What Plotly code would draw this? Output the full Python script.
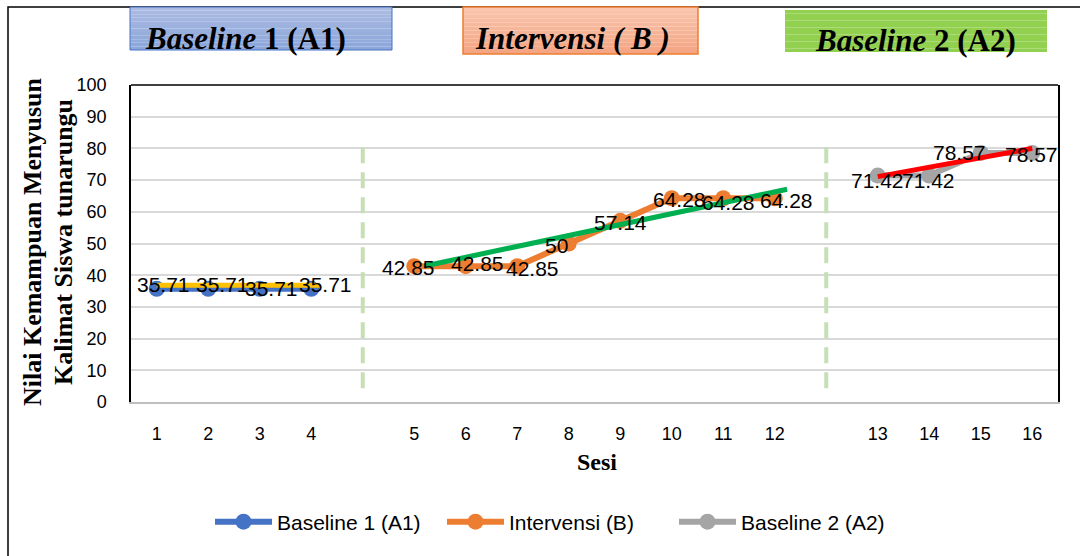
import plotly.graph_objects as go

# ---- data -------------------------------------------------------------
sesi_a1 = [1, 2, 3, 4]
nilai_a1 = [35.71, 35.71, 35.71, 35.71]

sesi_b = [5, 6, 7, 8, 9, 10, 11, 12]
nilai_b = [42.85, 42.85, 42.85, 50, 57.14, 64.28, 64.28, 64.28]

sesi_a2 = [13, 14, 15, 16]
nilai_a2 = [71.42, 71.42, 78.57, 78.57]

# hand-drawn trend lines per phase (session, value)
tren_a1_x = [1, 4.17]
tren_a1_y = [36.8, 36.8]
tren_b_x = [5.2, 12.24]
tren_b_y = [42.9, 67.1]
tren_a2_x = [13, 16]
tren_a2_y = [71.1, 80.0]

tick_sesi = list(range(1, 17))

# ---- layout geometry (px) ----------------------------------------------
W, H = 1080, 556
L, R, T, B = 131, 1058, 85, 402
PW, PH = R - L, B - T


def px(x):
    return (x - L) / PW


def py(y):
    return (B - y) / PH


def slot(s):
    """Sessions sit on an 18-slot axis with an empty slot between phases."""
    if s <= 4.5:
        return s - 1
    if s <= 12.5:
        return s
    return s + 1


def slots(seq):
    return [slot(s) for s in seq]


BLUE, ORANGE, GREY = "#4472C4", "#ED7D31", "#A5A5A5"
SANS = "Liberation Sans, Arial, sans-serif"
SERIF = "Liberation Serif, Times New Roman, serif"

fig = go.Figure()

series = [
    ("Baseline 1 (A1)", sesi_a1, nilai_a1, BLUE),
    ("Intervensi (B)", sesi_b, nilai_b, ORANGE),
    ("Baseline 2 (A2)", sesi_a2, nilai_a2, GREY),
]
for name, xs, ys, col in series:
    fig.add_trace(go.Scatter(
        x=slots(xs), y=ys, name=name, mode="lines+markers",
        line=dict(color=col, width=6),
        marker=dict(color=col, size=16),
        hoverinfo="skip",
    ))

trends = [
    (tren_a1_x, tren_a1_y, "#FFC000"),
    (tren_b_x, tren_b_y, "#00B050"),
    (tren_a2_x, tren_a2_y, "#FF0000"),
]
for xs, ys, col in trends:
    fig.add_trace(go.Scatter(
        x=slots(xs), y=ys, mode="lines", showlegend=False,
        line=dict(color=col, width=5), hoverinfo="skip",
    ))

# value labels (small nudges keep overlapping numbers apart)
label_nudge = {
    "a1": ([7, 14, 12, 14], [4, 4, 0, 4]),
    "b": ([-6, 12, 15, -12, 0, 8, 5, 12], [-1, 3, -2, -2, -2, -1, -4, -2]),
    "a2": ([0, -1, -21, -1], [-5, -5, 0, -2]),
}
annotations = []
for key, xs, ys in (("a1", sesi_a1, nilai_a1), ("b", sesi_b, nilai_b),
                    ("a2", sesi_a2, nilai_a2)):
    dx, dy = label_nudge[key]
    for i, (s, v) in enumerate(zip(xs, ys)):
        annotations.append(dict(
            x=slot(s), y=v, xref="x", yref="y", text=f"{v:g}",
            showarrow=False, xshift=dx[i], yshift=dy[i],
            font=dict(family=SANS, size=21, color="#000000"),
        ))

shapes = []


def gradient_box(x0, x1, y0, y1, top, bottom, border, bw, n=12):
    def hx(c):
        return [int(c[i:i + 2], 16) for i in (1, 3, 5)]
    a, b = hx(top), hx(bottom)
    step = (y1 - y0) / n
    for k in range(n):
        t = k / (n - 1)
        c = [round(a[j] + (b[j] - a[j]) * t) for j in range(3)]
        shapes.append(dict(
            type="rect", xref="paper", yref="paper",
            x0=px(x0), x1=px(x1), y0=py(y0 + step * (k + 1)), y1=py(y0 + step * k),
            fillcolor="rgb({},{},{})".format(*c), line=dict(width=0),
        ))
    if border:
        shapes.append(dict(
            type="rect", xref="paper", yref="paper",
            x0=px(x0), x1=px(x1), y0=py(y1), y1=py(y0),
            line=dict(color=border, width=bw), fillcolor="rgba(0,0,0,0)",
        ))


# outer frame
shapes.append(dict(type="rect", xref="paper", yref="paper",
                   x0=px(8), x1=px(1095), y0=py(570), y1=py(7),
                   line=dict(color="#000000", width=1.5), fillcolor="rgba(0,0,0,0)"))

# phase headers
gradient_box(130, 392, 7, 50, "#ABBBE3", "#8CA6DA", BLUE, 1)
gradient_box(463, 698, 7, 54, "#F9C5AD", "#F4A583", ORANGE, 1.5)
gradient_box(785, 1047, 10, 52, "#92D050", "#92D050", None, 0)

# top edge of the plot frame (bottom edge is the grey category axis line)
shapes.append(dict(type="line", xref="paper", yref="paper", x0=0, x1=1, y0=1, y1=1,
                   line=dict(color="#000000", width=1.5)))

# phase-change dashed lines
for pos in (slot(4) + 0.5 * (slot(5) - slot(4)), slot(12) + 0.5 * (slot(13) - slot(12))):
    shapes.append(dict(type="line", xref="x", yref="y", x0=pos, x1=pos, y0=4.3, y1=81,
                       line=dict(color="#C5E0B4", width=4, dash="16px,9px")))

headers = [
    ("<b><i>Baseline</i> 1 (A1)</b>", 245, 38),
    ("<b><i>Intervensi ( B )</i></b>", 572, 38),
    ("<b><i>Baseline</i> 2 (A2)</b>", 915, 40),
]
for txt, x, y in headers:
    annotations.append(dict(
        x=px(x), y=py(y), xref="paper", yref="paper", text=txt,
        showarrow=False, xanchor="center", yanchor="middle",
        font=dict(family=SERIF, size=31, color="#000000"),
    ))

# axis titles
for txt, x in (("<b>Nilai Kemampuan Menyusun</b>", 32), ("<b>Kalimat Siswa tunarungu</b>", 63)):
    annotations.append(dict(
        x=px(x), y=py(242), xref="paper", yref="paper", text=txt, textangle=-90,
        showarrow=False, xanchor="center", yanchor="middle",
        font=dict(family=SERIF, size=26, color="#000000"),
    ))
annotations.append(dict(
    x=px(597), y=py(462), xref="paper", yref="paper", text="<b>Sesi</b>",
    showarrow=False, xanchor="center", yanchor="middle",
    font=dict(family=SERIF, size=24, color="#000000"),
))

fig.update_layout(
    width=W, height=H,
    margin=dict(l=L, r=W - R, t=T, b=H - B),
    paper_bgcolor="#FFFFFF", plot_bgcolor="#FFFFFF",
    shapes=shapes, annotations=annotations,
    showlegend=True,
    legend=dict(orientation="h", x=px(558), xanchor="center", y=py(522), yanchor="middle",
                font=dict(family=SANS, size=21, color="#000000"),
                itemwidth=57, entrywidth=160, entrywidthmode="pixels",
                bgcolor="rgba(0,0,0,0)", tracegroupgap=0),
    xaxis=dict(
        range=[-0.5, 17.5], tickmode="array",
        tickvals=slots(tick_sesi), ticktext=[str(s) for s in tick_sesi],
        showgrid=False, zeroline=False,
        showline=True, linecolor="#BFBFBF", linewidth=1.5, mirror=False,
        ticks="outside", ticklen=15, tickcolor="rgba(0,0,0,0)",
        tickfont=dict(family=SANS, size=18, color="#000000"),
    ),
    yaxis=dict(
        range=[0, 100], dtick=10, tick0=0,
        showgrid=True, gridcolor="#D9D9D9", gridwidth=1.5, zeroline=False,
        showline=True, linecolor="#000000", linewidth=1.5, mirror=True,
        ticks="outside", ticklen=19, tickcolor="rgba(0,0,0,0)",
        tickfont=dict(family=SANS, size=18, color="#000000"),
    ),
)

fig.write_html("out.html")
